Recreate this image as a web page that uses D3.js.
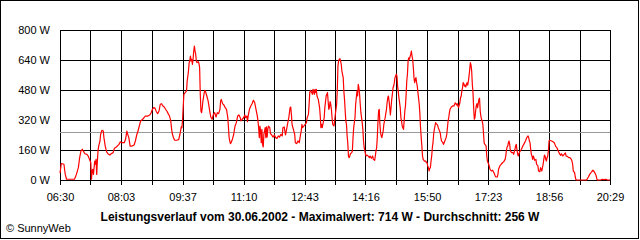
<!DOCTYPE html>
<html>
<head>
<meta charset="utf-8">
<script src="https://cdn.jsdelivr.net/npm/d3@7"></script>
<style>
  body { margin: 0; background: #fff; }
  svg { display: block; }
  text { font-family: Arial, "Liberation Sans", sans-serif; }
</style>
</head>
<body>
<svg id="chart" width="640" height="240"></svg>
<script>
// Leistungsverlauf 30.06.2002, values (W)
var times = [
  "06:30","06:32","06:36","06:38","06:40","06:52","06:53","06:55","06:58","07:00",
  "07:02","07:04","07:06","07:08","07:11","07:13","07:15","07:17","07:18","07:19",
  "07:20","07:21","07:22","07:23","07:24","07:25","07:26","07:27","07:28","07:29",
  "07:31","07:32","07:34","07:36","07:37","07:39","07:41","07:43","07:46","07:48",
  "07:51","07:53","07:56","08:00","08:02","08:05","08:08","08:10","08:12","08:13",
  "08:15","08:17","08:20","08:23","08:25","08:27","08:29","08:31","08:33","08:36",
  "08:38","08:40","08:44","08:47","08:49","08:51","08:53","08:55","08:57","08:59",
  "09:01","09:03","09:05","09:07","09:09","09:11","09:13","09:15","09:17","09:19",
  "09:20","09:21","09:23","09:25","09:28","09:31","09:33","09:35","09:36","09:37",
  "09:38","09:39","09:41","09:43","09:44","09:46","09:47","09:48","09:49","09:50",
  "09:51","09:52","09:53","09:54","09:55","09:56","09:57","09:58","09:59","10:01",
  "10:02","10:03","10:04","10:05","10:06","10:07","10:08","10:10","10:11","10:12",
  "10:14","10:16","10:18","10:20","10:22","10:24","10:26","10:28","10:30","10:32",
  "10:34","10:35","10:36","10:38","10:40","10:42","10:44","10:46","10:47","10:48",
  "10:49","10:50","10:51","10:53","10:55","10:57","10:59","11:01","11:03","11:05",
  "11:06","11:08","11:10","11:12","11:13","11:15","11:16","11:17","11:19","11:21",
  "11:23","11:25","11:27","11:29","11:31","11:32","11:33","11:34","11:35","11:36",
  "11:37","11:38","11:39","11:40","11:41","11:42","11:43","11:44","11:45","11:46",
  "11:47","11:48","11:50","11:51","11:53","11:55","11:57","11:59","12:01","12:03",
  "12:05","12:07","12:09","12:10","12:12","12:14","12:15","12:17","12:19","12:21",
  "12:22","12:23","12:24","12:26","12:28","12:29","12:31","12:33","12:34","12:35",
  "12:37","12:38","12:39","12:40","12:42","12:44","12:46","12:47","12:49","12:50",
  "12:51","12:52","12:54","12:55","12:56","12:58","12:59","13:00","13:01","13:02",
  "13:04","13:06","13:07","13:08","13:09","13:10","13:11","13:13","13:14","13:16",
  "13:18","13:19","13:20","13:21","13:22","13:23","13:24","13:25","13:26","13:28",
  "13:30","13:32","13:33","13:34","13:35","13:36","13:37","13:38","13:39","13:40",
  "13:42","13:43","13:44","13:46","13:47","13:48","13:49","13:50","13:51","13:52",
  "13:53","13:55","13:56","13:57","13:58","14:00","14:01","14:02","14:03","14:04",
  "14:05","14:06","14:07","14:08","14:09","14:11","14:12","14:13","14:14","14:15",
  "14:16","14:17","14:18","14:20","14:22","14:23","14:25","14:27","14:28","14:30",
  "14:31","14:32","14:33","14:34","14:35","14:36","14:37","14:38","14:39","14:40",
  "14:41","14:42","14:43","14:44","14:46","14:48","14:49","14:50","14:51","14:52",
  "14:53","14:54","14:55","14:56","14:57","14:58","14:59","15:00","15:01","15:02",
  "15:03","15:04","15:05","15:07","15:09","15:10","15:11","15:12","15:13","15:14",
  "15:15","15:16","15:17","15:18","15:19","15:20","15:21","15:22","15:23","15:25",
  "15:26","15:27","15:28","15:29","15:30","15:31","15:32","15:33","15:34","15:35",
  "15:36","15:38","15:39","15:40","15:41","15:42","15:43","15:44","15:46","15:48",
  "15:49","15:50","15:51","15:52","15:53","15:54","15:55","15:56","15:57","15:58",
  "15:59","16:00","16:01","16:02","16:03","16:04","16:05","16:06","16:07","16:08",
  "16:10","16:11","16:12","16:14","16:15","16:16","16:17","16:19","16:20","16:21",
  "16:22","16:23","16:24","16:25","16:27","16:29","16:31","16:32","16:33","16:34",
  "16:35","16:36","16:37","16:38","16:39","16:40","16:41","16:42","16:43","16:44",
  "16:45","16:46","16:47","16:48","16:49","16:50","16:51","16:52","16:53","16:54",
  "16:55","16:56","16:57","16:58","16:59","17:00","17:01","17:02","17:03","17:04",
  "17:05","17:06","17:07","17:08","17:09","17:10","17:11","17:12","17:13","17:14",
  "17:15","17:16","17:17","17:18","17:19","17:20","17:21","17:22","17:23","17:24",
  "17:26","17:28","17:30","17:32","17:34","17:35","17:37","17:38","17:39","17:41",
  "17:43","17:45","17:47","17:49","17:50","17:51","17:52","17:53","17:54","17:55",
  "17:56","17:57","17:59","18:01","18:02","18:04","18:05","18:06","18:07","18:08",
  "18:09","18:10","18:12","18:14","18:16","18:18","18:20","18:22","18:24","18:25",
  "18:26","18:27","18:28","18:29","18:30","18:31","18:32","18:33","18:34","18:36",
  "18:37","18:39","18:40","18:42","18:43","18:44","18:45","18:46","18:47","18:48",
  "18:49","18:50","18:51","18:52","18:53","18:54","18:55","18:56","18:57","19:00",
  "19:02","19:04","19:05","19:06","19:08","19:09","19:10","19:12","19:14","19:15",
  "19:17","19:19","19:21","19:22","19:24","19:26","19:28","19:30","19:31","19:32",
  "19:33","19:34","19:35","19:36","19:37","19:38","19:53","19:54","19:56","19:58",
  "20:01","20:03","20:05","20:07","20:08","20:09","20:10","20:15","20:17","20:19",
  "20:23","20:25","20:29"
];

var watts = [
   37,  88,  84,  30,   4,   4,  12,  30,  66, 119,
  155, 164, 151, 140, 137, 128, 110,  92,   4,  48,
   57,  30,  66, 101,  84, 110,  30, 101, 155, 181,
  208, 244, 265, 261, 226, 181, 151, 140, 133, 140,
  146, 169, 176, 190, 204, 199, 199, 217, 261, 247,
  226, 181, 181, 187, 208, 240, 261, 288, 315, 324,
  332, 341, 341, 347, 359, 377, 386, 382, 364, 354,
  368, 404, 407, 395, 389, 377, 368, 354, 341, 315,
  279, 252, 226, 212, 212, 215, 244, 283, 279, 324,
  395, 457, 466, 475, 528, 581, 626, 635, 661, 635,
  644, 617, 644, 688, 714, 688, 670, 635, 626, 631,
  621, 599, 457, 368, 359, 386, 421, 466, 478, 471,
  448, 421, 377, 336, 324, 350, 359, 336, 359, 354,
  377, 421, 430, 407, 400, 386, 377, 332, 279, 226,
  208, 194, 199, 217, 244, 288, 306, 341, 347, 332,
  315, 324, 332, 347, 332, 341, 311, 341, 377, 395,
  407, 425, 413, 377, 341, 315, 279, 226, 288, 261,
  199, 270, 190, 176, 244, 261, 279, 226, 283, 229,
  270, 288, 279, 247, 240, 229, 240, 226, 222, 235,
  229, 244, 235, 279, 283, 240, 258, 297, 332, 386,
  389, 350, 297, 270, 244, 199, 194, 208, 204, 199,
  244, 261, 297, 279, 288, 297, 306, 332, 350, 404,
  466, 478, 466, 457, 484, 457, 484, 466, 484, 448,
  430, 386, 341, 279, 297, 279, 297, 332, 386, 448,
  466, 421, 377, 386, 418, 404, 377, 332, 297, 288,
  350, 404, 480, 608, 635, 644, 647, 635, 617, 581,
  546, 475, 430, 315, 297, 235, 199, 128, 119, 128,
  140, 146, 155, 226, 279, 332, 404, 439, 475, 448,
  510, 492, 457, 404, 359, 306, 270, 208, 172, 158,
  137, 128, 133, 128, 119, 128, 116, 128, 110, 105,
  128, 155, 172, 226, 306, 368, 377, 297, 252, 235,
  226, 244, 261, 297, 332, 377, 412, 439, 448, 421,
  386, 347, 386, 430, 457, 492, 501, 519, 546, 555,
  564, 555, 501, 439, 386, 332, 315, 288, 279, 270,
  315, 368, 395, 457, 528, 564, 635, 652, 644, 670,
  688, 661, 644, 599, 546, 519, 537, 546, 519, 501,
  466, 404, 350, 279, 226, 181, 128, 110, 101, 101,
   92,  92,  75,  66,  48,  62,  66, 101, 128, 172,
  199, 244, 270, 288, 306, 301, 297, 293, 279, 270,
  252, 226, 208, 199, 190, 199, 208, 226, 244, 279,
  315, 332, 359, 377, 389, 395, 395, 404, 412, 407,
  400, 407, 395, 386, 400, 412, 439, 448, 475, 492,
  519, 514, 501, 506, 496, 510, 519, 506, 528, 555,
  590, 626, 613, 581, 510, 466, 386, 324, 332, 368,
  395, 407, 386, 407, 430, 436, 368, 341, 324, 315,
  297, 252, 199, 190, 187, 181, 128, 101,  92,  84,
   57,  48,  52,  39,  21,  16,  16,  30,  57,  75,
   84,  92,  98, 110, 128, 158, 176, 181, 199, 208,
  190, 155, 146, 146, 137, 164, 181, 190, 164, 140,
  128, 140, 155, 164, 181, 194, 208, 226, 235, 226,
  208, 199, 164, 137, 128, 110, 128, 119, 105, 110,
   84,  75,  48,  44,  66,  57,  48,  66,  84, 110,
  133, 128, 110, 101, 119, 128, 155, 208, 212, 208,
  204, 199, 190, 181, 172, 164, 155, 140, 132, 140,
  128, 137, 144, 128, 126, 119, 119, 110, 101,  84,
   48,  44,  39,  16,   2,   0,   0,   4,  16,  30,
   44,  52,  44,  30,  21,   4,   0,   0,   4,   2,
    4,   0,   0
];

var timeLabels = ["06:30","08:03","09:37","11:10","12:43","14:16","15:50","17:23","18:56","20:29"];
var yTicks     = [0, 160, 320, 480, 640, 800];
var datum      = "30.06.2002";
var maximum    = 714;
var average    = 256;

function toMin(s) {
    var p = s.split(":");
    return +p[0] * 60 + +p[1];
}

var data = times.map(function (t, i) { return { t: toMin(t), w: watts[i] }; });

// plot box (note: "top" is taken by window.top)
var svg = d3.select("#chart"),
    pLeft = 60, pRight = 610, pTop = 30, pBottom = 180;

var x = d3.scaleLinear()
    .domain([toMin(timeLabels[0]), toMin(timeLabels[timeLabels.length - 1])])
    .range([pLeft, pRight]);

var y = d3.scaleLinear()
    .domain([0, 800])
    .range([pBottom, pTop]);

// one grid line on every label and one between each pair
var labelMins = timeLabels.map(toMin);
var gridTimes = [];
labelMins.forEach(function (m, i) {
    gridTimes.push(m);
    if (i < labelMins.length - 1) gridTimes.push((m + labelMins[i + 1]) / 2);
});

// frame round the whole picture
svg.append("rect")
    .attr("x", 0.5).attr("y", 0.5)
    .attr("width", 638).attr("height", 238)
    .attr("fill", "#fff")
    .attr("stroke", "#000");

// vertical grid
svg.append("g")
    .attr("transform", "translate(0," + pBottom + ")")
    .call(d3.axisBottom(x).tickValues(gridTimes).tickSize(-(pBottom - pTop)).tickFormat(""))
    .call(function (g) { g.select(".domain").remove(); });

// ticks under the plot + time labels
var xAxis = svg.append("g")
    .attr("transform", "translate(0," + pBottom + ")")
    .call(d3.axisBottom(x)
        .tickValues(gridTimes)
        .tickSize(5)
        .tickPadding(8)
        .tickFormat(function (d) {
            var i = labelMins.indexOf(d);
            return i >= 0 ? timeLabels[i] : "";
        }));
xAxis.select(".domain").remove();

// horizontal grid + W labels
var yAxis = svg.append("g")
    .attr("transform", "translate(" + pLeft + ",0)")
    .call(d3.axisLeft(y)
        .tickValues(yTicks)
        .tickSize(-(pRight - pLeft))
        .tickPadding(10)
        .tickFormat(function (d) { return d + " W"; }));
yAxis.select(".domain").remove();

svg.selectAll(".tick line")
    .attr("stroke", "#000")
    .attr("shape-rendering", "crispEdges");
svg.selectAll(".tick text")
    .attr("font-family", "Arial, 'Liberation Sans', sans-serif")
    .attr("font-size", 11)
    .attr("fill", "#000");

// average line
svg.append("line")
    .attr("x1", pLeft).attr("x2", pRight)
    .attr("y1", Math.round(y(average)) + 0.5).attr("y2", Math.round(y(average)) + 0.5)
    .attr("stroke", "#999")
    .attr("shape-rendering", "crispEdges");

// power curve
var line = d3.line()
    .x(function (d) { return x(d.t); })
    .y(function (d) { return y(d.w); });

svg.append("path")
    .datum(data)
    .attr("d", line)
    .attr("fill", "none")
    .attr("stroke", "#ff0000")
    .attr("stroke-width", 1.2)
    .attr("stroke-linejoin", "round");

// title + copyright
svg.append("text")
    .attr("x", 320).attr("y", 220.5)
    .attr("text-anchor", "middle")
    .attr("font-size", 12)
    .attr("font-weight", "bold")
    .text("Leistungsverlauf vom " + datum + " - Maximalwert: " + maximum + " W - Durchschnitt: " + average + " W");

svg.append("text")
    .attr("x", 6).attr("y", 232)
    .attr("font-size", 11)
    .text("\u00A9 SunnyWeb");
</script>
</body>
</html>
